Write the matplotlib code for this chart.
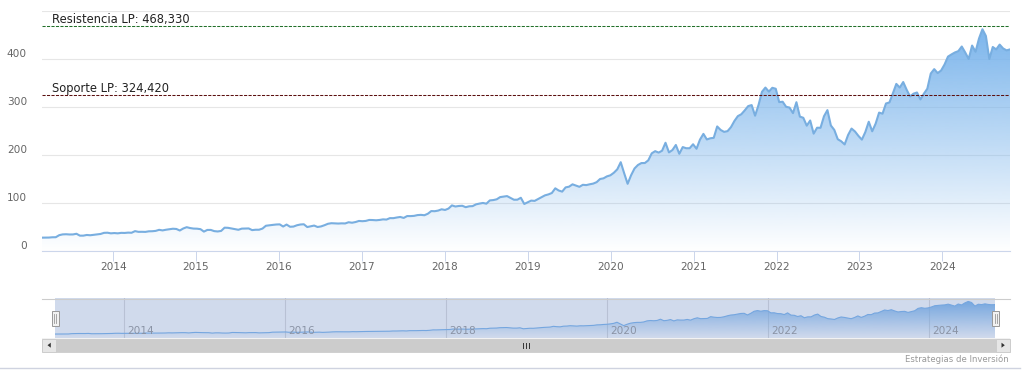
import numpy as np
import pandas as pd
import matplotlib
matplotlib.use("Agg")
import matplotlib.pyplot as plt
import matplotlib.dates as mdates
import matplotlib.colors as mcolors
from matplotlib.patches import Rectangle, Polygon
from matplotlib.transforms import ScaledTranslation

# ---------------- datos (cierres aprox. cada quincena) ----------------
fecha_ini = "2013-02-22"
fecha_fin = "2024-10-25"
v_ini = [27.8]
v2013 = [27.9, 28.0, 28.6, 28.7, 33.0, 34.6, 34.9, 34.4, 34.5, 35.9, 32.0, 32.0,
         33.4, 32.8, 33.6, 34.6, 35.5, 37.8, 38.1, 36.8]
v2014 = [37.4, 36.8, 37.8, 37.6, 38.3, 38.0, 41.4, 39.9, 40.0, 39.8, 41.0, 41.2,
         41.9, 44.1, 42.9, 44.3, 45.4, 46.4, 45.9, 42.7, 46.9, 49.6, 47.8, 46.7]
v2015 = [46.5, 45.5, 40.4, 43.9, 43.9, 41.4, 40.7, 41.8, 48.6, 48.3, 46.9, 45.5,
         44.2, 46.6, 46.7, 47.0, 43.5, 44.3, 44.3, 46.7, 52.6, 53.6, 54.4, 55.2]
v2016 = [55.5, 51.0, 55.1, 50.5, 50.9, 53.6, 55.2, 55.7, 49.9, 51.4, 53.0, 50.0,
         51.2, 53.7, 56.7, 57.9, 57.5, 57.2, 57.6, 57.4, 59.9, 58.9, 60.3, 62.6]
v2017 = [62.1, 62.7, 64.7, 64.5, 64.0, 64.7, 65.9, 65.5, 68.5, 68.4, 69.8, 70.9,
         68.9, 72.8, 72.7, 73.2, 74.8, 75.3, 74.5, 77.6, 83.2, 82.9, 84.2, 86.9]
v2018 = [85.5, 88.4, 95.0, 92.7, 93.8, 94.2, 91.3, 93.1, 93.5, 97.2, 98.8, 100.1,
         98.6, 105.4, 106.1, 107.7, 112.3, 113.4, 114.4, 110.7, 106.8, 106.9, 110.9, 98.0]
v2019 = [101.6, 105.0, 104.4, 108.2, 112.0, 115.9, 117.9, 120.8, 130.6, 126.0, 123.7, 132.5,
         134.0, 138.9, 136.3, 133.7, 137.9, 137.3, 139.0, 140.4, 143.4, 150.0, 151.4, 155.5]
v2020 = [157.7, 163.0, 170.2, 185.0, 162.0, 140.0, 157.7, 171.9, 179.2, 183.2, 183.3, 188.9,
         203.5, 208.0, 205.0, 208.9, 225.5, 205.4, 210.3, 220.9, 202.5, 216.5, 214.1, 214.1]
v2021 = [222.4, 213.0, 232.0, 244.0, 232.4, 234.8, 235.8, 259.5, 252.2, 248.2, 249.7, 258.0,
         270.9, 281.0, 284.9, 293.0, 301.9, 304.0, 281.9, 304.2, 331.6, 340.5, 332.0, 340.0]
v2022 = [338.0, 310.2, 311.0, 300.5, 298.8, 287.2, 310.0, 280.0, 277.5, 261.1, 271.9, 244.5,
         256.8, 256.7, 280.7, 293.5, 261.5, 252.2, 232.9, 228.6, 222.0, 241.7, 255.1, 249.0]
v2023 = [239.8, 232.0, 247.8, 269.3, 249.4, 265.4, 288.3, 286.1, 307.3, 309.5, 328.4, 348.1,
         340.5, 352.0, 335.9, 321.9, 327.8, 330.2, 315.8, 327.7, 338.1, 369.7, 378.9, 370.7]
v2024 = [376.0, 388.5, 405.0, 409.5, 413.6, 416.4, 426.0, 413.6, 400.0, 428.0, 415.1, 442.6,
         462.0, 448.0, 400.0, 425.0, 420.0, 430.0, 422.0, 418.0]
v_fin = [420.0]

precios = (v_ini + v2013 + v2014 + v2015 + v2016 + v2017 + v2018 + v2019 + v2020
           + v2021 + v2022 + v2023 + v2024 + v_fin)

resistencia = 468.330
soporte = 324.420
etiqueta_res = "Resistencia LP: 468,330"
etiqueta_sop = "Soporte LP: 324,420"

grid_y = [0, 100, 200, 300, 400, 500]
etiquetas_y = ["0", "100", "200", "300", "400", ""]
anos = list(range(2014, 2025))
anos_nav = list(range(2014, 2025, 2))
creditos = "Estrategias de Inversión"

# ---------------- config figura ----------------
plt.rcParams['font.family'] = ['DejaVu Sans']
W, H = 1032, 387
fig = plt.figure(figsize=(W / 100, H / 100), dpi=100)
fig.patch.set_facecolor('white')

COLOR = '#7cb5ec'


def caja(x0, y0, x1, y1, **kw):
    return fig.add_axes([x0 / W, 1 - y1 / H, (x1 - x0) / W, (y1 - y0) / H], **kw)


def area_degradado(axis, xs, ys, base, color, alpha_top=1.0, z=1):
    top = max(ys)
    verts = [(xs[0], base)] + list(zip(xs, ys)) + [(xs[-1], base)]
    clip = Polygon(verts, closed=True, facecolor='none', edgecolor='none',
                   transform=axis.transData)
    axis.add_patch(clip)
    rgba = np.zeros((256, 1, 4))
    rgba[..., :3] = mcolors.to_rgb(color)
    rgba[:, 0, 3] = np.linspace(alpha_top, 0.0, 256)
    img = axis.imshow(rgba, aspect='auto', origin='upper', interpolation='bilinear',
                      extent=[xs[0], xs[-1], base, top], zorder=z)
    img.set_clip_path(clip)


fechas = pd.date_range(fecha_ini, fecha_fin, periods=len(precios))
xs = mdates.date2num(fechas)
ys = np.array(precios)

# ---------------- grafico principal ----------------
ax = caja(42, 11, 1010, 251)
area_degradado(ax, xs, ys, 0, COLOR, 1.0, z=2)
ax.plot(xs, ys, color='#78aee0', lw=1.5, zorder=3, solid_joinstyle='round')
ax.set_xlim(xs[0], xs[-1])
ax.set_ylim(0, 500)
ax.set_aspect('auto')

for s in ['top', 'right', 'left']:
    ax.spines[s].set_visible(False)
ax.spines['bottom'].set_color('#ccd6eb')
ax.spines['bottom'].set_linewidth(0.8)

ax.set_yticks(grid_y)
ax.set_yticklabels(etiquetas_y)
ax.grid(axis='y', color='#e6e6e6', lw=0.8, zorder=0)
ax.set_axisbelow(True)
ax.tick_params(axis='y', length=0, pad=10.8, labelsize=7.6, labelcolor='#666666')
for lab in ax.get_yticklabels():
    lab.set_transform(lab.get_transform() + ScaledTranslation(0, 0.06, fig.dpi_scale_trans))

ax.set_xticks(mdates.date2num([pd.Timestamp(f"{a}-01-01") for a in anos]))
ax.set_xticklabels([str(a) for a in anos])
ax.tick_params(axis='x', direction='out', length=7.2, width=0.72, color='#ccd6eb',
               pad=1.0, labelsize=7.6, labelcolor='#666666')

# lineas de soporte / resistencia
ax.axhline(resistencia, color='#22702a', lw=0.75, ls=(0, (3, 1.3)), zorder=4)
ax.axhline(soporte, color='#5c1010', lw=0.75, ls=(0, (3, 1.3)), zorder=4)
ax.annotate(etiqueta_res, xy=(0, resistencia), xycoords=('axes fraction', 'data'),
            xytext=(10, 3), textcoords='offset pixels', fontsize=8.3, color='#222222',
            ha='left', va='baseline', zorder=5)
ax.annotate(etiqueta_sop, xy=(0, soporte), xycoords=('axes fraction', 'data'),
            xytext=(10, 3), textcoords='offset pixels', fontsize=8.3, color='#222222',
            ha='left', va='baseline', zorder=5)

# ---------------- navegador ----------------
nav = caja(55, 298, 995, 338)
nav_min, nav_max = -25, 508
for a in anos_nav:
    nav.axvline(mdates.date2num(pd.Timestamp(f"{a}-01-01")), color='#dcdcdc', lw=0.8, zorder=0)
area_degradado(nav, xs, ys, nav_min, COLOR, 1.0, z=2)
nav.plot(xs, ys, color=COLOR, lw=0.8, zorder=3)
nav.add_patch(Rectangle((0, 0), 1, 1, transform=nav.transAxes,
                        facecolor=(102 / 255, 133 / 255, 194 / 255, 0.3),
                        edgecolor='none', zorder=4))
for a in anos_nav:
    nav.annotate(str(a), xy=(mdates.date2num(pd.Timestamp(f"{a}-01-01")), 0),
                 xycoords=('data', 'axes fraction'), xytext=(3, 3.5),
                 textcoords='offset pixels', fontsize=7.6, color='#8a93a5',
                 ha='left', va='baseline', zorder=6)
nav.set_xlim(xs[0], xs[-1])
nav.set_ylim(nav_min, nav_max)
nav.set_aspect('auto')
nav.axis('off')

# ---------------- barra de scroll, asas, creditos ----------------
ui = fig.add_axes([0, 0, 1, 1], zorder=5)
ui.set_xlim(0, W)
ui.set_ylim(H, 0)
ui.axis('off')

ui.plot([42, 1010], [298.5, 298.5], color='#cccccc', lw=0.8)
ui.add_patch(Rectangle((42, 338), 968, 14, facecolor='#f2f2f2', edgecolor='none'))
ui.add_patch(Rectangle((55.5, 338.5), 940, 13.5, facecolor='#cccccc', edgecolor='#cccccc', lw=0.6))
ui.add_patch(Rectangle((42, 338.5), 13.5, 13.5, facecolor='#e6e6e6', edgecolor='#cccccc', lw=0.7))
ui.add_patch(Rectangle((996, 338.5), 13.5, 13.5, facecolor='#e6e6e6', edgecolor='#cccccc', lw=0.7))
ui.add_patch(Polygon([(47.5, 345.2), (50.8, 342.7), (50.8, 347.7)], facecolor='#333333', edgecolor='none'))
ui.add_patch(Polygon([(1004.8, 345.2), (1001.5, 342.7), (1001.5, 347.7)], facecolor='#333333', edgecolor='none'))
for gx in [522.5, 525.5, 528.5]:
    ui.plot([gx, gx], [342.5, 348], color='#333333', lw=0.7)

for hx in [55, 995.5]:
    ui.add_patch(Rectangle((hx - 3.5, 310.5), 7, 15, facecolor='#f2f2f2', edgecolor='#999999', lw=0.7))
    for dx in [-1, 1]:
        ui.plot([hx + dx, hx + dx], [313.5, 322.5], color='#999999', lw=0.6)

ui.plot([0, 1020], [367.5, 367.5], color='#cfd3e0', lw=1.0)
ui.text(1009, 359, creditos, ha='right', va='center', fontsize=6.1, color='#999999')

fig.savefig("out.png", dpi=100)
